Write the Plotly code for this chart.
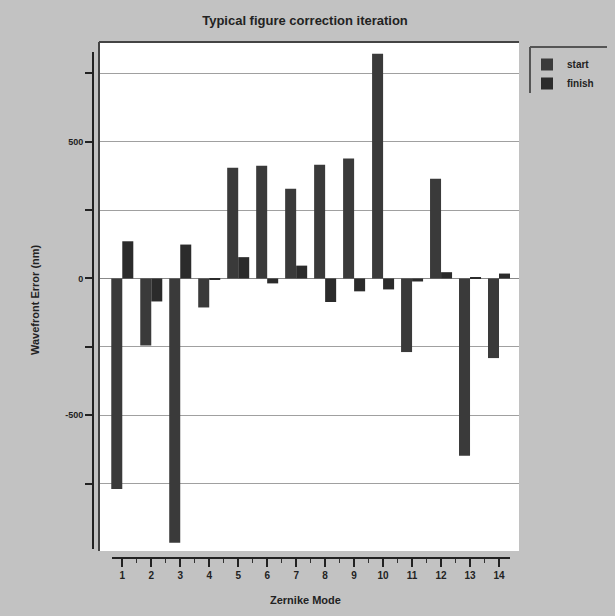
import plotly.graph_objects as go

modes = list(range(1, 15))
start = [-770, -245, -966, -106, 405, 412, 328, 416, 439, 822, -269, 365, -648, -291]
finish = [136, -84, 124, -5, 78, -18, 47, -86, -47, -40, -11, 23, 5, 18]
ytick_vals = [-750, -500, -250, 0, 250, 500, 750]
ytick_text = ["", "-500", "", "0", "", "500", ""]
minor_vals = [m + 0.5 for m in modes[:-1]]

W, H = 615, 616
def px(x):
    return x / W
def py(y):
    return 1 - y / H

fig = go.Figure()
fig.add_trace(go.Bar(x=modes, y=start, name="start", marker=dict(color="#3a3a3a", line=dict(width=0))))
fig.add_trace(go.Bar(x=modes, y=finish, name="finish", marker=dict(color="#2b2b2b", line=dict(width=0))))

shapes = [
    dict(type="rect", xref="paper", yref="paper", x0=px(99), x1=px(519), y0=py(551), y1=py(42),
         fillcolor="white", line=dict(width=0), layer="below"),
    dict(type="line", xref="paper", yref="paper", x0=px(99), x1=px(519), y0=py(42), y1=py(42),
         line=dict(color="#444", width=2)),
    dict(type="line", xref="paper", yref="paper", x0=px(99), x1=px(99), y0=py(42), y1=py(551),
         line=dict(color="#444", width=2)),
    dict(type="line", xref="paper", yref="paper", x0=px(112), x1=px(510), y0=py(558), y1=py(558),
         line=dict(color="#222", width=2)),
    dict(type="line", xref="paper", yref="paper", x0=px(530), x1=px(607), y0=py(47), y1=py(47),
         line=dict(color="#555", width=2)),
    dict(type="line", xref="paper", yref="paper", x0=px(530), x1=px(530), y0=py(47), y1=py(93),
         line=dict(color="#555", width=2)),
]

fig.update_layout(
    width=W, height=H,
    margin=dict(l=0, r=0, t=0, b=0),
    paper_bgcolor="#c2c2c2",
    plot_bgcolor="white",
    barmode="group",
    bargap=0.24,
    bargroupgap=0,
    shapes=shapes,
    font=dict(family="Liberation Sans, Arial, sans-serif", color="#222"),
    title=dict(text="<b>Typical figure correction iteration</b>", x=px(305), y=py(20),
               xanchor="center", yanchor="middle", font=dict(size=13, color="#222")),
    legend=dict(x=px(527), y=py(50), xanchor="left", yanchor="top", bgcolor="rgba(0,0,0,0)",
                font=dict(size=10, color="#222", weight="bold"), itemclick=False),
    xaxis=dict(domain=[px(100), px(519)], range=[0.231, 14.69], anchor="free", position=py(558),
               tickvals=modes, ticks="outside", ticklen=8, tickwidth=2, tickcolor="#222",
               showline=False, showgrid=False, zeroline=False,
               tickfont=dict(size=10, color="#222", weight="bold"),
               minor=dict(tickvals=minor_vals, ticks="outside", ticklen=4, tickwidth=1, tickcolor="#333", showgrid=False)),
    yaxis=dict(domain=[py(549), py(52)], range=[-989, 828], anchor="free", position=px(93),
               tickvals=ytick_vals, ticktext=ytick_text, ticks="outside", ticklen=7, tickwidth=2,
               tickcolor="#222", showline=True, linecolor="#222", linewidth=2,
               showgrid=True, gridcolor="#a0a0a0", gridwidth=1,
               zeroline=True, zerolinecolor="#888", zerolinewidth=1,
               tickfont=dict(size=9, color="#222", weight="bold")),
    annotations=[
        dict(text="<b>Wavefront Error (nm)</b>", xref="paper", yref="paper", x=px(35), y=py(300),
             textangle=-90, showarrow=False, font=dict(size=11, color="#222"), xanchor="center", yanchor="middle"),
        dict(text="<b>Zernike Mode</b>", xref="paper", yref="paper", x=px(305), y=py(600),
             showarrow=False, font=dict(size=11, color="#222"), xanchor="center", yanchor="middle"),
    ],
)

fig.write_html("out.html")
